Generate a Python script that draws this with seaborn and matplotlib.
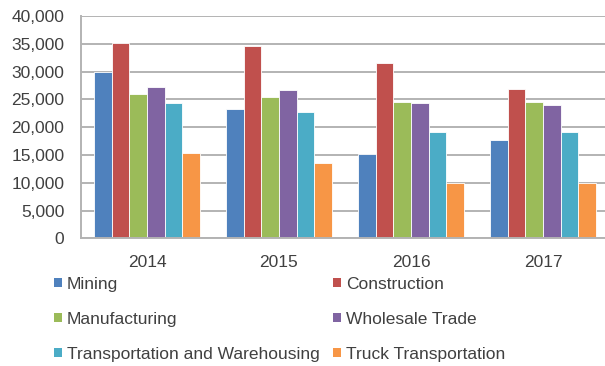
import matplotlib
matplotlib.use("Agg")
import matplotlib.pyplot as plt
from matplotlib.patches import Patch
from matplotlib.ticker import FuncFormatter, MultipleLocator
import pandas as pd
import seaborn as sns

years = ["2014", "2015", "2016", "2017"]
sectors = ["Mining", "Construction", "Manufacturing", "Wholesale Trade",
           "Transportation and Warehousing", "Truck Transportation"]
mining = [30000, 23200, 15200, 17600]
construction = [35100, 34600, 31500, 26900]
manufacturing = [25900, 25400, 24500, 24600]
wholesale = [27200, 26600, 24300, 23900]
transport_warehousing = [24400, 22700, 19100, 19200]
truck = [15400, 13500, 10000, 10000]
colors = ["#4F81BD", "#C0504D", "#9BBB59", "#8064A2", "#4BACC6", "#F79646"]

series = [mining, construction, manufacturing, wholesale, transport_warehousing, truck]
rows = []
for name, vals in zip(sectors, series):
    for yr, v in zip(years, vals):
        rows.append({"year": yr, "sector": name, "value": v})
df = pd.DataFrame(rows)

sns.set_theme(style="white")
plt.rcParams["font.family"] = ["Liberation Sans", "DejaVu Sans"]
text_color = "#404040"

fig = plt.figure(figsize=(6.05, 3.66), dpi=100)
ax = fig.add_axes([81 / 605, 1 - 238.3 / 366, (609 - 81) / 605, (238.3 - 16) / 366])

sns.barplot(data=df, x="year", y="value", hue="sector", hue_order=sectors,
            order=years, palette=colors, saturation=1, width=0.8,
            edgecolor="white", linewidth=0.6, errorbar=None, ax=ax, legend=False)

ax.set_ylim(0, 40000)
ax.set_xlim(-0.5, 3.5)
ax.yaxis.set_major_locator(MultipleLocator(5000))
ax.yaxis.set_major_formatter(FuncFormatter(lambda v, _: f"{int(v):,}"))
ax.set_xlabel("")
ax.set_ylabel("")
ax.grid(axis="y", color="#B3B3B3", linewidth=1.4)
ax.set_axisbelow(True)
for side in ["top", "right"]:
    ax.spines[side].set_visible(False)
for side in ["left", "bottom"]:
    ax.spines[side].set_color("#B3B3B3")
    ax.spines[side].set_linewidth(1.4)
ax.tick_params(axis="both", length=0, labelsize=12.5, colors=text_color)
ax.tick_params(axis="y", pad=12)
ax.tick_params(axis="x", pad=12)

# legend laid out row-wise in two columns
order = [0, 2, 4, 1, 3, 5]
handles = [Patch(facecolor=colors[i], edgecolor="none") for i in order]
labels = [sectors[i] for i in order]
leg = fig.legend(handles, labels, ncol=2, loc="upper left",
                 bbox_to_anchor=(54 / 605, 1 - 277 / 366), frameon=False,
                 fontsize=12.5, handlelength=0.45, handleheight=0.45,
                 handletextpad=0.29, columnspacing=0.8, labelspacing=1.15,
                 borderpad=0, borderaxespad=0)
for t in leg.get_texts():
    t.set_color(text_color)

fig.savefig("out.png", dpi=100)
